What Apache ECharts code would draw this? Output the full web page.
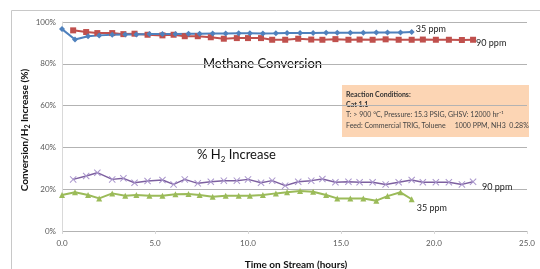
<!DOCTYPE html>
<html><head><meta charset="utf-8">
<script src="https://cdn.jsdelivr.net/npm/echarts@6/dist/echarts.min.js"></script>
<style>html,body{margin:0;padding:0;background:#fff}#c{width:540px;height:269px}</style>
</head><body><div id="c"></div>
<script>
// Time (hours) for the 35 ppm runs
var time35 = [0.0,0.7,1.4,2.0,2.7,3.4,4.0,4.7,5.4,6.1,6.8,7.4,8.1,8.8,9.5,10.1,10.8,11.5,12.1,12.8,13.5,14.2,14.8,15.5,16.2,16.9,17.5,18.2,18.8];
// Time (hours) for the 90 ppm runs
var time90 = [0.6,1.3,1.9,2.7,3.3,3.9,4.6,5.4,6.0,6.6,7.3,8.0,8.7,9.4,10.0,10.7,11.3,12.0,12.7,13.4,14.0,14.7,15.4,16.0,16.7,17.4,18.1,18.8,19.4,20.1,20.8,21.5,22.1];
// Methane conversion (%)
var methane35 = [96.6,91.6,93.2,93.6,93.9,94.0,94.0,94.2,94.2,94.3,94.4,94.4,94.5,94.5,94.6,94.6,94.5,94.6,94.7,94.7,94.7,94.8,94.8,94.9,94.9,95.0,95.0,95.0,95.2];
var methane90 = [96.0,95.2,94.7,94.7,94.2,94.4,93.9,93.6,93.9,93.2,93.2,92.7,92.0,92.3,92.3,92.3,91.5,91.5,92.0,91.6,91.5,91.8,91.5,91.6,91.5,91.7,91.5,91.5,91.6,91.5,91.5,91.4,91.5];
// % H2 increase
var h2_35 = [17.2,18.5,17.2,15.6,18.0,16.9,17.2,16.9,16.9,17.6,17.7,17.2,16.4,16.9,16.9,16.9,17.2,18.0,18.5,19.1,18.8,17.2,15.6,15.6,15.6,14.5,16.7,18.5,15.2];
var h2_90 = [24.7,26.3,27.9,24.7,25.2,23.1,23.9,24.4,22.3,24.7,22.8,23.6,24.1,24.1,24.7,23.1,24.1,21.7,23.6,24.1,24.9,23.3,23.6,23.3,23.3,22.3,23.3,24.4,23.3,23.3,23.3,22.3,23.6];
// Axis ticks
var xTicks = {min:0, max:25, interval:5};
var yTicks = {min:0, max:100, interval:20};
var seriesLabels = {m35:'35 ppm', m90:'90 ppm', h90:'90 ppm', h35:'35 ppm'};

function pairs(t, v){ return t.map(function(x,i){ return [x, v[i]]; }); }

var FONT = 'Lato';
var xPath = 'path://M0,1 L1,0 L5,4 L9,0 L10,1 L6,5 L10,9 L9,10 L5,6 L1,10 L0,9 L4,5 Z';

function endLbl(text, off){
  return {show:true, formatter:text, offset:off, distance:0, color:'#222', fontSize:9, fontFamily:FONT};
}

var chart = echarts.init(document.getElementById('c'), null, {renderer:'canvas'});
chart.setOption({
  animation:false,
  grid:{left:62, right:13, top:22, bottom:38},
  xAxis:{type:'value', min:xTicks.min, max:xTicks.max, interval:xTicks.interval,
    axisLine:{show:false}, axisTick:{show:true, length:3, lineStyle:{color:'#d9d9d9'}},
    splitLine:{show:false},
    axisLabel:{formatter:function(v){return v.toFixed(1);}, color:'#595959', fontSize:8, fontFamily:FONT, margin:8}},
  yAxis:{type:'value', min:yTicks.min, max:yTicks.max, interval:yTicks.interval,
    axisLine:{show:true, lineStyle:{color:'#d9d9d9'}}, axisTick:{show:false},
    splitLine:{show:true, lineStyle:{color:'#b3b3b3', width:1}},
    axisLabel:{formatter:'{value}%', color:'#595959', fontSize:8, fontFamily:FONT, margin:6}},
  series:[
    {type:'line', data:pairs(time90, methane90), symbol:'rect', symbolSize:6,
      lineStyle:{color:'#C0504D', width:2}, itemStyle:{color:'#C0504D'},
      endLabel:endLbl(seriesLabels.m90,[3,3])},
    {type:'line', data:pairs(time35, methane35), symbol:'diamond', symbolSize:6,
      lineStyle:{color:'#4F81BD', width:2}, itemStyle:{color:'#4F81BD'},
      endLabel:endLbl(seriesLabels.m35,[4,-3])},
    {type:'line', data:pairs(time90, h2_90), symbol:xPath, symbolSize:7,
      lineStyle:{color:'#7D60A0', width:1.5}, itemStyle:{color:'#A995CC'},
      endLabel:endLbl(seriesLabels.h90,[9,5])},
    {type:'line', data:pairs(time35, h2_35), symbol:'triangle', symbolSize:6,
      lineStyle:{color:'#9BBB59', width:2}, itemStyle:{color:'#9BBB59'},
      endLabel:endLbl(seriesLabels.h35,[5,9])}
  ],
  graphic:[
    {type:'rect', silent:true, z:-1, shape:{x:11.5, y:10.5, width:600, height:600},
      style:{fill:'none', stroke:'#c8c8c8', lineWidth:1}},
    {type:'text', x:203, y:64, style:{text:'Methane Conversion', font:'13px '+FONT, fill:'#111', textVerticalAlign:'middle'}},
    {type:'text', x:197, y:155, style:{text:'% H{s|2} Increase', font:'13px '+FONT, fill:'#111', textVerticalAlign:'middle',
      rich:{s:{fontSize:8, fontFamily:FONT, padding:[8,0,0,0], fill:'#111'}}}},
    {type:'rect', shape:{x:342, y:85, width:187, height:52}, style:{fill:'#FCD5B4', stroke:'none'}},
    {type:'text', x:346, y:95, style:{text:'Reaction Conditions:', font:'bold 7px '+FONT, fill:'#333', textVerticalAlign:'middle'}},
    {type:'text', x:346, y:105, style:{text:'Cat 1.1', font:'bold 7px '+FONT, fill:'#333', textVerticalAlign:'middle'}},
    {type:'text', x:346, y:115, style:{text:'T: > 900 °C, Pressure: 15.3 PSIG, GHSV: 12000 hr\u207B\u00B9', font:'7px '+FONT, fill:'#444', textVerticalAlign:'middle'}},
    {type:'text', x:346, y:126, style:{text:'Feed: Commercial TRIG, Toluene     1000 PPM, NH3  0.28%', font:'7px '+FONT, fill:'#444', textVerticalAlign:'middle'}},
    {type:'text', x:296, y:265, style:{text:'Time on Stream (hours)', font:'bold 10px '+FONT, fill:'#111', textAlign:'center', textVerticalAlign:'middle'}},
    {type:'text', x:25, y:130, rotation:Math.PI/2,
      style:{text:'Conversion/H{s|2} Increase (%)', font:'bold 10px '+FONT, fill:'#111', textAlign:'center', textVerticalAlign:'middle',
        rich:{s:{fontSize:7, fontWeight:'bold', fontFamily:FONT, padding:[6,0,0,0], fill:'#111'}}}}
  ]
});
</script></body></html>
